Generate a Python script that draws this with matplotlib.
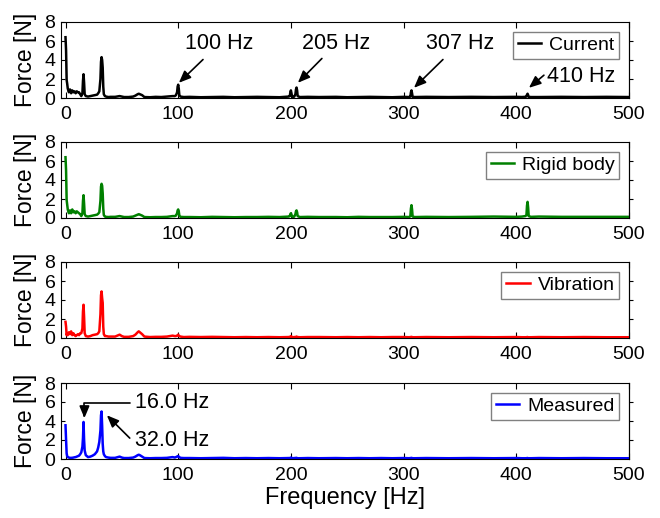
import matplotlib
matplotlib.use("Agg")
import matplotlib.pyplot as plt
import numpy as np

plt.rcParams['font.family'] = ['Liberation Sans', 'DejaVu Sans']

# ---------------- data ----------------
freq = [0, 0.5, 1, 1.5, 2, 3, 4, 5, 6, 7, 8, 9, 10, 11, 12, 13, 14,
        15, 15.5, 16, 16.5, 17, 18, 20, 22, 24, 26, 28, 29, 30,
        31, 31.5, 32, 32.5, 33, 33.5, 34, 35, 36, 38, 40,
        44, 48, 50, 52, 56, 60, 62, 64, 65, 66, 68, 70, 75, 80, 85, 90, 95,
        97, 98, 99, 99.5, 100, 100.5, 101, 102, 105,
        110, 120, 130, 140, 150, 160, 170, 180, 190, 198,
        199, 199.5, 200, 200.5, 201, 202, 203, 204, 204.5, 205, 205.5, 206, 208, 215,
        225, 240, 250, 260, 270, 280, 290, 300, 305,
        306, 306.5, 307, 307.5, 308, 310, 320,
        340, 360, 380, 400, 405, 408,
        409, 409.5, 410, 410.5, 411, 413, 420, 440, 460, 480, 500]

current = [6.4, 5.0, 1.9, 1.5, 1.0, 0.6, 0.9, 0.5, 0.8, 0.6, 0.7, 0.5, 0.7, 0.6, 0.6, 0.4, 0.2,
           0.5, 1.8, 2.5, 1.6, 0.4, 0.2, 0.15, 0.2, 0.25, 0.3, 0.35, 0.5, 0.7,
           2.0, 3.8, 4.3, 4.0, 3.2, 1.2, 0.4, 0.2, 0.15, 0.1, 0.12,
           0.12, 0.2, 0.15, 0.1, 0.1, 0.15, 0.25, 0.4, 0.45, 0.4, 0.3, 0.1, 0.08, 0.12, 0.1, 0.15, 0.2,
           0.2, 0.3, 0.6, 1.2, 1.4, 1.0, 0.3, 0.15, 0.1,
           0.12, 0.08, 0.1, 0.12, 0.08, 0.1, 0.12, 0.1, 0.08, 0.15,
           0.2, 0.6, 0.8, 0.5, 0.15, 0.1, 0.15, 0.4, 0.9, 1.1, 0.8, 0.2, 0.1, 0.12,
           0.1, 0.12, 0.08, 0.1, 0.12, 0.1, 0.08, 0.12, 0.1,
           0.15, 0.6, 0.8, 0.5, 0.12, 0.1, 0.12,
           0.1, 0.12, 0.1, 0.12, 0.1, 0.12,
           0.15, 0.35, 0.45, 0.3, 0.12, 0.1, 0.1, 0.12, 0.1, 0.12, 0.1]

rigid = [6.4, 5.0, 1.9, 1.4, 0.9, 0.5, 0.8, 0.5, 0.9, 0.6, 0.7, 0.5, 0.7, 0.6, 0.5, 0.4, 0.2,
         0.5, 1.8, 2.4, 1.5, 0.4, 0.2, 0.15, 0.2, 0.25, 0.3, 0.35, 0.45, 0.6,
         1.8, 3.3, 3.6, 3.4, 2.6, 1.0, 0.3, 0.15, 0.12, 0.1, 0.12,
         0.12, 0.2, 0.15, 0.1, 0.1, 0.15, 0.25, 0.35, 0.4, 0.35, 0.25, 0.1, 0.08, 0.1, 0.1, 0.12, 0.2,
         0.2, 0.25, 0.5, 0.8, 0.9, 0.7, 0.25, 0.12, 0.1,
         0.1, 0.08, 0.12, 0.1, 0.08, 0.1, 0.1, 0.12, 0.1, 0.15,
         0.2, 0.4, 0.5, 0.35, 0.15, 0.1, 0.15, 0.4, 0.7, 0.8, 0.6, 0.2, 0.1, 0.12,
         0.1, 0.1, 0.08, 0.12, 0.1, 0.1, 0.1, 0.12, 0.1,
         0.2, 1.0, 1.35, 0.9, 0.15, 0.1, 0.12,
         0.1, 0.12, 0.15, 0.12, 0.15, 0.2,
         0.3, 1.3, 1.7, 1.1, 0.2, 0.12, 0.15, 0.12, 0.12, 0.12, 0.12]

vibration = [1.7, 1.2, 0.3, 0.5, 0.3, 0.6, 0.4, 0.7, 0.3, 0.5, 0.3, 0.2, 0.3, 0.4, 0.3, 0.5, 0.5,
             1.0, 2.8, 3.5, 2.2, 0.5, 0.2, 0.15, 0.2, 0.3, 0.35, 0.4, 0.5, 0.7,
             2.5, 4.5, 4.9, 4.2, 3.7, 1.2, 0.4, 0.2, 0.2, 0.15, 0.15,
             0.15, 0.35, 0.2, 0.12, 0.12, 0.2, 0.35, 0.6, 0.7, 0.6, 0.4, 0.15, 0.1, 0.12, 0.12, 0.15, 0.25,
             0.2, 0.2, 0.25, 0.3, 0.35, 0.25, 0.2, 0.15, 0.1,
             0.12, 0.1, 0.12, 0.1, 0.08, 0.1, 0.08, 0.1, 0.08, 0.1,
             0.12, 0.15, 0.2, 0.15, 0.1, 0.08, 0.1, 0.1, 0.12, 0.15, 0.12, 0.1, 0.08, 0.1,
             0.1, 0.08, 0.1, 0.08, 0.1, 0.08, 0.1, 0.1, 0.08,
             0.1, 0.1, 0.12, 0.1, 0.08, 0.08, 0.1,
             0.08, 0.1, 0.08, 0.1, 0.08, 0.08,
             0.08, 0.1, 0.1, 0.08, 0.08, 0.08, 0.1, 0.08, 0.1, 0.08, 0.08]

measured = [3.55, 2.0, 0.6, 0.3, 0.2, 0.15, 0.12, 0.12, 0.13, 0.15, 0.18, 0.2, 0.25, 0.3, 0.35, 0.5, 0.7,
            1.3, 2.2, 3.9, 2.0, 0.9, 0.4, 0.2, 0.25, 0.35, 0.5, 0.8, 1.2, 1.8,
            3.0, 4.6, 5.0, 3.5, 1.6, 0.8, 0.5, 0.3, 0.2, 0.15, 0.12,
            0.12, 0.25, 0.15, 0.1, 0.1, 0.15, 0.25, 0.4, 0.45, 0.4, 0.25, 0.1, 0.08, 0.1, 0.1, 0.12, 0.2,
            0.15, 0.2, 0.25, 0.3, 0.3, 0.25, 0.2, 0.12, 0.1,
            0.1, 0.08, 0.1, 0.12, 0.08, 0.1, 0.08, 0.1, 0.08, 0.1,
            0.1, 0.12, 0.15, 0.12, 0.1, 0.08, 0.1, 0.1, 0.12, 0.12, 0.1, 0.08, 0.08, 0.1,
            0.08, 0.1, 0.08, 0.1, 0.08, 0.1, 0.08, 0.1, 0.08,
            0.1, 0.1, 0.12, 0.1, 0.08, 0.08, 0.1,
            0.08, 0.1, 0.08, 0.1, 0.08, 0.08,
            0.08, 0.1, 0.1, 0.08, 0.08, 0.08, 0.1, 0.08, 0.1, 0.08, 0.08]

series_names = ["Current", "Rigid body", "Vibration", "Measured"]
series_values = [current, rigid, vibration, measured]
series_colors = ["#000000", "#008000", "#ff0000", "#0000ff"]

xticks = [0, 100, 200, 300, 400, 500]
yticks = [0, 2, 4, 6, 8]

# annotations: (label, text_xy, arrow_tail, arrow_tip)
top_annots = [("100 Hz", (106, 5.76), (122, 4.05), (100.6, 1.6)),
              ("205 Hz", (209.7, 5.76), (227.5, 4.16), (206.2, 1.6)),
              ("307 Hz", (319.8, 5.76), (334.9, 4.05), (309.2, 1.07)),
              ("410 Hz", (427.2, 2.24), (424.5, 2.4), (411.2, 1.07))]

# ---------------- figure ----------------
fig = plt.figure(figsize=(6.6, 5.18), dpi=100)
left, width, h = 61 / 660, 568 / 660, 76 / 518
tops = [22, 142, 262, 383]

axes = []
for i, (name, vals, col) in enumerate(zip(series_names, series_values, series_colors)):
    bottom = (518 - tops[i]) / 518 - h
    ax = fig.add_axes([left, bottom, width, h])
    ax.plot(freq, vals, color=col, lw=1.8, label=name)
    ax.set_xlim(-4, 500)
    ax.set_ylim(0, 8)
    ax.set_xticks(xticks)
    ax.set_yticks(yticks)
    ax.tick_params(axis='x', direction='in', top=True, bottom=True, length=4,
                   width=0.8, labelsize=14, pad=6)
    ax.tick_params(axis='y', direction='in', left=True, right=False, length=3,
                   width=0.8, labelsize=14, pad=4)
    sec = ax.secondary_yaxis('right')
    sec.set_yticks([2, 4, 6])
    sec.set_yticklabels([])
    sec.tick_params(direction='out', length=3, width=0.8)
    for s in ax.spines.values():
        s.set_linewidth(0.8)
    sec.spines['right'].set_linewidth(0.8)
    ax.set_ylabel("Force [N]", fontsize=16.5)
    ax.yaxis.set_label_coords(-0.043, 0.5)
    leg = ax.legend(loc='upper right', fontsize=14, frameon=True, fancybox=False,
                    framealpha=1, edgecolor='#808080', borderpad=0.25,
                    handlelength=1.2, handletextpad=0.4, borderaxespad=0.5)
    leg.get_frame().set_linewidth(1.0)
    axes.append(ax)

arrow_kw = dict(arrowstyle='-|>,head_length=0.6,head_width=0.25', color='k',
                lw=1.2, mutation_scale=12, shrinkA=0, shrinkB=0)

ax0 = axes[0]
for label, txy, tail, tip in top_annots:
    ax0.text(txy[0], txy[1], label, fontsize=15.5, ha='left', va='center')
    ax0.annotate('', xy=tip, xytext=tail, arrowprops=arrow_kw)

ax3 = axes[3]
ax3.text(62, 5.9, "16.0 Hz", fontsize=15.5, ha='left', va='center')
ax3.text(62, 2.0, "32.0 Hz", fontsize=15.5, ha='left', va='center')
elbow_kw = dict(arrow_kw)
elbow_kw['connectionstyle'] = 'angle,angleA=0,angleB=90,rad=0'
ax3.annotate('', xy=(16.8, 4.3), xytext=(57.5, 5.9), arrowprops=elbow_kw)
ax3.annotate('', xy=(36.7, 4.6), xytext=(57, 2.2), arrowprops=arrow_kw)
ax3.set_xlabel("Frequency [Hz]", fontsize=17, labelpad=2)

fig.savefig("out.png", dpi=100)
